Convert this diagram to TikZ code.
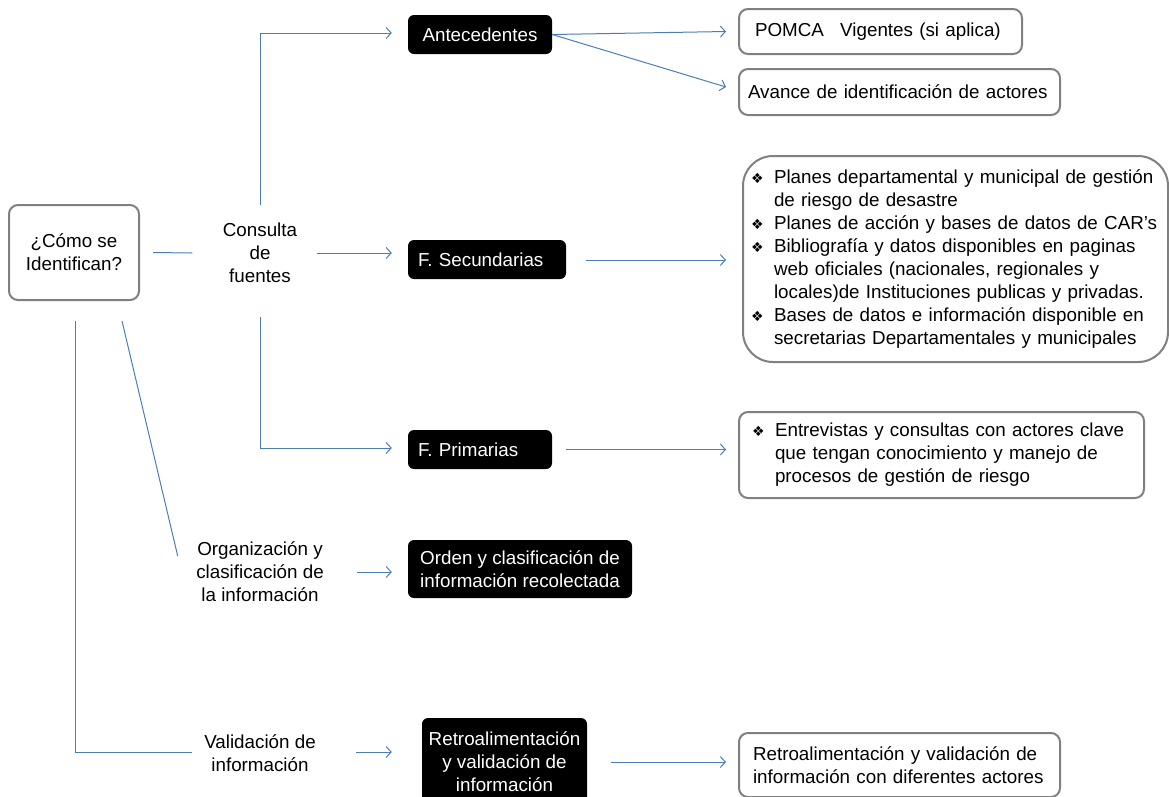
\documentclass[tikz,border=0pt]{standalone}
\usepackage{fontspec}
\setmainfont{Liberation Sans}
\newfontfamily\symfont{DejaVu Sans}
\usetikzlibrary{arrows.meta,calc}
\definecolor{linkblue}{HTML}{4A7EBB}
\definecolor{boxgray}{HTML}{808080}
\newcommand{\bulletmark}{\makebox[23pt][l]{\symfont\fontsize{14}{23}\selectfont ❖}}
\newcommand{\contindent}{\hspace*{23pt}}
\begin{document}
\begin{tikzpicture}[x=1pt,y=-1pt,
  font=\fontsize{18.8}{23}\selectfont,
  link/.style={draw=linkblue, line width=1pt},
  arr/.style={link, -{Straight Barb[length=5pt,width=11pt]}},
  darkbox/.style={fill=black, text=white, rounded corners=6pt, inner sep=0pt, align=center},
  graybox/.style={draw=boxgray, line width=2pt, fill=white, rounded corners=9pt, inner sep=0pt},
  plain/.style={align=center}]
\useasboundingbox (0,0) rectangle (1169,796);

% root
\node[graybox, minimum width=130pt, minimum height=95pt, align=center] (como) at (74,252.5) {¿Cómo se\\Identifican?};

% first-level steps
\node[plain] (consulta) at (260,253) {Consulta\\de\\fuentes};
\node[plain] (org) at (260,572) {Organización y\\clasificación de\\la información};
\node[plain] (val) at (260,753.5) {Validación de\\información};

% dark boxes
\node[darkbox, minimum width=144pt, minimum height=39pt] (ante) at (480,34.5) {Antecedentes};
\node[darkbox, text width=138pt, inner xsep=10pt, minimum height=39pt, align=left] (fsec) at (487,259.5) {F. Secundarias};
\node[darkbox, text width=124pt, inner xsep=10pt, minimum height=39pt, align=left] (fprim) at (480,449.5) {F. Primarias};
\node[darkbox, minimum width=224pt, minimum height=58pt] (orden) at (520,569) {Orden y clasificación de\\información recolectada};
\node[darkbox, minimum width=165pt, minimum height=88pt] (retro) at (504.5,762) {Retroalimentación\\y validación de\\información};

% result boxes
\node[graybox, text width=251pt, inner xsep=16pt, minimum height=45pt, align=left] (pomca) at (880.5,31.5) {\makebox[245pt][s]{POMCA\hspace{10pt} Vigentes (si aplica)}};
\node[graybox, text width=303pt, inner xsep=9pt, minimum height=46pt, align=left] (avance) at (899.5,92) {\makebox[298pt][s]{Avance de identificación de actores}};
\node[graybox, rounded corners=30pt, text width=409pt, inner xsep=8pt, minimum height=206pt, align=left] (sec) at (955.5,259) {%
\bulletmark Planes departamental y municipal de gestión\\
\contindent de riesgo de desastre\\
\bulletmark Planes de acción y bases de datos de CAR’s\\
\bulletmark Bibliografía y datos disponibles en paginas\\
\contindent web oficiales (nacionales, regionales y\\
\contindent locales)de Instituciones publicas y privadas.\\
\bulletmark Bases de datos e información disponible en\\
\contindent secretarias Departamentales y municipales};
\node[graybox, text width=379pt, inner xsep=13pt, minimum height=86pt, align=left] (prim) at (941.5,455) {%
\bulletmark Entrevistas y consultas con actores clave\\
\contindent que tengan conocimiento y manejo de\\
\contindent procesos de gestión de riesgo};
\node[graybox, text width=293pt, inner xsep=14pt, minimum height=64pt, align=left] (retroR) at (899.5,765) {Retroalimentación y validación de\\información con diferentes actores};

% connectors from the root
\draw[link] ($(como.east)+(13,0)$) -- ($(consulta.west)+(-27,0)$);
\draw[link] ($(como.south)+(48,20)$) -- ($(org.west)+(-15,-16)$);
\draw[link] ($(como.south)+(1,20)$) |- ($(val.west)+(-9,-1.5)$);

% Consulta de fuentes branches
\draw[arr] (consulta.north |- 0,205) |- ($(ante.west)+(-16,-1.5)$);
\draw[arr] ($(consulta.east)+(16,0)$) -- ($(fsec.west |- consulta.east)+(-16,0)$);
\draw[arr] (consulta.south |- 0,317) |- ($(fprim.west)+(-16,-1.5)$);

% second-level arrows
\draw[arr] ($(org.east)+(30,0)$) -- ($(orden.west |- org.east)+(-16,0)$);
\draw[arr] ($(val.east)+(37,-1.5)$) -- ($(retro.west |- val.east)+(-30,-1.5)$);

% results
\draw[arr] (ante.east) -- ($(pomca.west)+(-12,0)$);
\draw[arr] (ante.east) -- ($(avance.west)+(-12,-5)$);
\draw[arr] ($(fsec.east)+(20,0.5)$) -- ($(sec.west)+(-16,1)$);
\draw[arr] ($(fprim.east)+(14,0)$) -- ($(prim.west |- fprim.east)+(-12,0)$);
\draw[arr] ($(retro.east)+(24,0)$) -- ($(retroR.west |- retro.east)+(-12,0)$);
\end{tikzpicture}
\end{document}
